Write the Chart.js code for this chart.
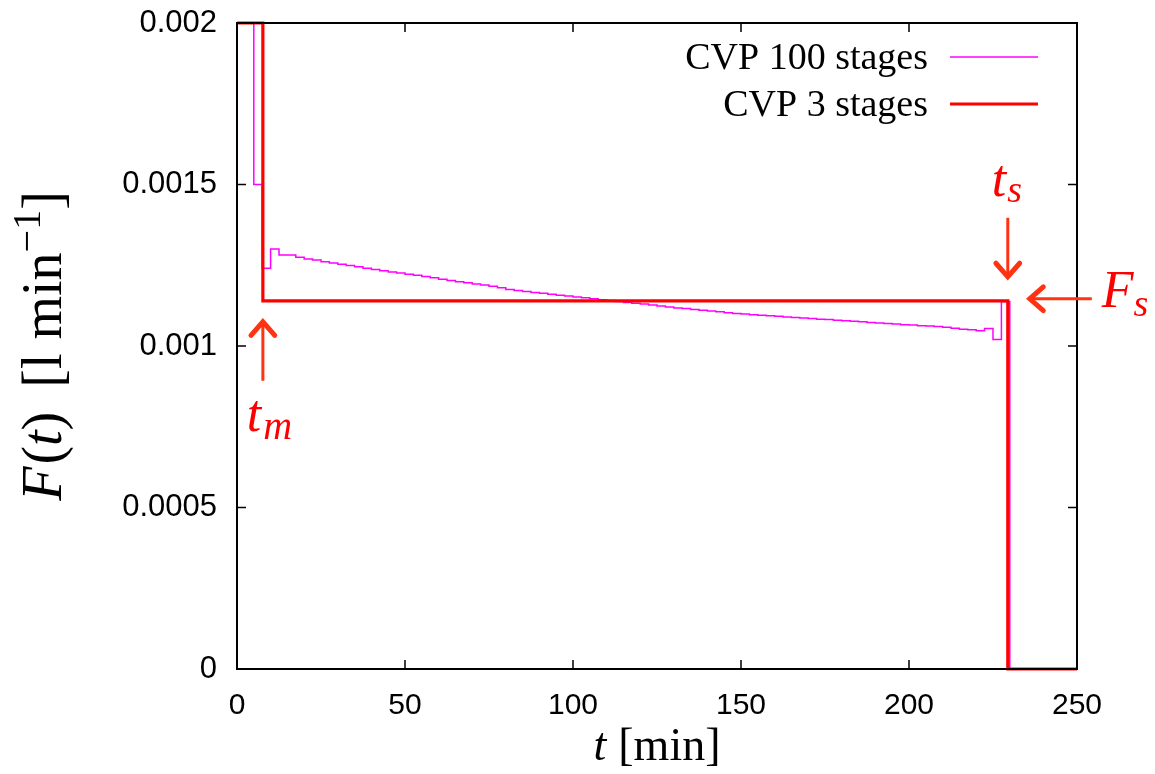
<!DOCTYPE html>
<html><head><meta charset="utf-8">
<script src="https://cdn.jsdelivr.net/npm/chart.js@4.4.0/dist/chart.umd.min.js"></script>
<style>html,body{margin:0;padding:0;background:#fff}#wrap{width:1155px;height:774px;position:relative}</style>
</head><body><div id="wrap"><canvas id="c"></canvas></div>
<script>
// ---- data ----
const seriesNames = ['CVP 100 stages', 'CVP 3 stages'];
const xTickValues = [0, 50, 100, 150, 200, 250];
const xTickLabels = ['0', '50', '100', '150', '200', '250'];
const yTickValues = [0, 0.0005, 0.001, 0.0015, 0.002];
const yTickLabels = ['0', '0.0005', '0.001', '0.0015', '0.002'];

const cvp100Times = [
  0, 2.5, 5, 7.5, 10, 12.5, 15, 17.5, 20, 22.5,
  25, 27.5, 30, 32.5, 35, 37.5, 40, 42.5, 45, 47.5,
  50, 52.5, 55, 57.5, 60, 62.5, 65, 67.5, 70, 72.5,
  75, 77.5, 80, 82.5, 85, 87.5, 90, 92.5, 95, 97.5,
  100, 102.5, 105, 107.5, 110, 112.5, 115, 117.5, 120, 122.5,
  125, 127.5, 130, 132.5, 135, 137.5, 140, 142.5, 145, 147.5,
  150, 152.5, 155, 157.5, 160, 162.5, 165, 167.5, 170, 172.5,
  175, 177.5, 180, 182.5, 185, 187.5, 190, 192.5, 195, 197.5,
  200, 202.5, 205, 207.5, 210, 212.5, 215, 217.5, 220, 222.5,
  225, 227.5, 230, 232.5, 235, 237.5, 240, 242.5, 245, 247.5,
  250
];
const cvp100Values = [
  0.002, 0.002, 0.0015, 0.001241, 0.0013, 0.001282, 0.001282, 0.001275, 0.001269, 0.001266,
  0.001261, 0.001257, 0.001253, 0.001249, 0.001245, 0.001241, 0.001237, 0.001233, 0.001229, 0.001226,
  0.001222, 0.001219, 0.001215, 0.001211, 0.001207, 0.001203, 0.001199, 0.001196, 0.001192, 0.001189,
  0.001185, 0.00118, 0.001175, 0.001172, 0.001169, 0.001166, 0.001163, 0.00116, 0.001157, 0.001155,
  0.001152, 0.001149, 0.001146, 0.001143, 0.001141, 0.001138, 0.001135, 0.001132, 0.00113, 0.001127,
  0.001124, 0.001121, 0.001118, 0.001116, 0.001113, 0.001111, 0.001108, 0.001106, 0.001103, 0.001101,
  0.001099, 0.001097, 0.001095, 0.001094, 0.001092, 0.00109, 0.001088, 0.001087, 0.001085, 0.001083,
  0.001082, 0.00108, 0.001078, 0.001077, 0.001075, 0.001073, 0.001071, 0.00107, 0.001068, 0.001066,
  0.001065, 0.001063, 0.001062, 0.00106, 0.001058, 0.001055, 0.001052, 0.00105, 0.001047, 0.001054,
  0.00102, 0.001138, 0, 0, 0, 0, 0, 0, 0, 0,
  0
];
const cvp3Times = [0, 7.7, 229.4, 250];
const cvp3Values = [0.002, 0.00114, 0, 0];

// annotation anchors taken from the 3-stage profile
const tM = cvp3Times[1];
const tS = cvp3Times[2];
const fS = cvp3Values[1];

// ---- helpers ----
const SERIF = '"Liberation Serif", "Times New Roman", serif';
const SANS = '"Liberation Sans", Arial, sans-serif';
const C100 = '#ff00ff', C3 = '#ff0000', ARROW = '#ff3311';

function toPoints(ts, vs) { return ts.map((t, i) => ({ x: t, y: vs[i] })); }

function drawRuns(ctx, runs, x, y, align) {
  let total = 0;
  runs.forEach(r => { ctx.font = r.font; r.w = ctx.measureText(r.t).width; total += r.w + (r.gap || 0); });
  let cx = align === 'center' ? x - total / 2 : (align === 'right' ? x - total : x);
  runs.forEach(r => {
    ctx.font = r.font;
    ctx.fillText(r.t, cx, y + (r.dy || 0));
    cx += r.w + (r.gap || 0);
  });
}

function arrow(ctx, x1, y1, x2, y2) {
  ctx.save();
  ctx.strokeStyle = ARROW; ctx.lineWidth = 3;
  ctx.beginPath(); ctx.moveTo(x1, y1); ctx.lineTo(x2, y2); ctx.stroke();
  const a = Math.atan2(y2 - y1, x2 - x1), L = 18, sp = 0.72;
  ctx.lineWidth = 5; ctx.lineCap = 'round'; ctx.lineJoin = 'miter';
  ctx.beginPath();
  ctx.moveTo(x2 - L * Math.cos(a - sp), y2 - L * Math.sin(a - sp));
  ctx.lineTo(x2, y2);
  ctx.lineTo(x2 - L * Math.cos(a + sp), y2 - L * Math.sin(a + sp));
  ctx.stroke();
  ctx.restore();
}

const framePlugin = {
  id: 'frame',
  afterDraw(chart) {
    const ctx = chart.ctx, a = chart.chartArea;
    const xs = chart.scales.x, ys = chart.scales.y;
    ctx.save();
    // border
    ctx.strokeStyle = '#000'; ctx.lineWidth = 2;
    ctx.strokeRect(a.left, a.top, a.right - a.left, a.bottom - a.top);
    // inward ticks, mirrored
    ctx.lineWidth = 1.5;
    ctx.beginPath();
    xTickValues.forEach(v => {
      const px = xs.getPixelForValue(v);
      ctx.moveTo(px, a.bottom); ctx.lineTo(px, a.bottom - 9);
      ctx.moveTo(px, a.top); ctx.lineTo(px, a.top + 9);
    });
    yTickValues.forEach(v => {
      const py = ys.getPixelForValue(v);
      ctx.moveTo(a.left, py); ctx.lineTo(a.left + 9, py);
      ctx.moveTo(a.right, py); ctx.lineTo(a.right - 9, py);
    });
    ctx.stroke();

    // legend
    ctx.fillStyle = '#000'; ctx.textBaseline = 'alphabetic'; ctx.textAlign = 'left';
    const legRight = a.right - 149, lx1 = a.right - 127, lx2 = a.right - 39;
    const rows = [{ y: a.top + 34, c: C100, w: 1.5 }, { y: a.top + 81, c: C3, w: 3 }];
    rows.forEach((r, i) => {
      drawRuns(ctx, [{ t: seriesNames[i], font: '38px ' + SERIF }], legRight, r.y + 12, 'right');
      ctx.strokeStyle = r.c; ctx.lineWidth = r.w;
      ctx.beginPath(); ctx.moveTo(lx1, r.y); ctx.lineTo(lx2, r.y); ctx.stroke();
    });

    // axis titles
    drawRuns(ctx, [
      { t: 't', font: 'italic 46px ' + SERIF, gap: 12 },
      { t: '[min]', font: '46px ' + SERIF }
    ], (a.left + a.right) / 2, 760, 'center');
    ctx.save();
    ctx.translate(61, (a.top + a.bottom) / 2);
    ctx.rotate(-Math.PI / 2);
    drawRuns(ctx, [
      { t: 'F', font: 'italic 56px ' + SERIF, gap: 2 },
      { t: '(', font: '56px ' + SERIF },
      { t: 't', font: 'italic 56px ' + SERIF },
      { t: ')', font: '56px ' + SERIF, gap: 24 },
      { t: '[l min', font: '56px ' + SERIF },
      { t: '\u22121', font: '40px ' + SERIF, dy: -21 },
      { t: ']', font: '56px ' + SERIF }
    ], 0, 0, 'center');
    ctx.restore();

    // annotations
    const xm = xs.getPixelForValue(tM), xsP = xs.getPixelForValue(tS), yf = ys.getPixelForValue(fS);
    arrow(ctx, xm, yf + 80, xm, yf + 21);
    arrow(ctx, xsP, yf - 83, xsP, yf - 24);
    arrow(ctx, xsP + 84, yf - 2, xsP + 22, yf - 2);
    ctx.fillStyle = '#ff0000';
    drawRuns(ctx, [
      { t: 't', font: 'italic 52px ' + SERIF, gap: 2 },
      { t: 'm', font: 'italic 40px ' + SERIF, dy: 8 }
    ], xm - 16, yf + 130, 'left');
    drawRuns(ctx, [
      { t: 't', font: 'italic 52px ' + SERIF, gap: 1 },
      { t: 's', font: 'italic 38px ' + SERIF, dy: 6 }
    ], xsP - 16, yf - 105, 'left');
    drawRuns(ctx, [
      { t: 'F', font: 'italic 52px ' + SERIF, gap: 0 },
      { t: 's', font: 'italic 38px ' + SERIF, dy: 9 }
    ], xsP + 94, yf + 6, 'left');
    ctx.restore();
  }
};

new Chart(document.getElementById('c'), {
  type: 'line',
  data: {
    datasets: [
      { label: seriesNames[0], data: toPoints(cvp100Times, cvp100Values), borderColor: C100, borderWidth: 1.5,
        stepped: true, pointRadius: 0, fill: false, clip: 2, order: 1 },
      { label: seriesNames[1], data: toPoints(cvp3Times, cvp3Values), borderColor: C3, borderWidth: 3.2,
        stepped: true, pointRadius: 0, fill: false, clip: 2, order: 0 }
    ]
  },
  options: {
    responsive: true, maintainAspectRatio: false, animation: false,
    layout: { padding: { top: 23, right: 78, left: 0, bottom: 0 } },
    plugins: { legend: { display: false }, tooltip: { enabled: false } },
    scales: {
      x: {
        type: 'linear', min: 0, max: 250,
        grid: { display: false, drawTicks: false }, border: { display: false },
        afterBuildTicks: s => { s.ticks = xTickValues.map(v => ({ value: v })); },
        afterFit: s => { s.height = 105; s.paddingLeft = 0; s.paddingRight = 0; },
        ticks: { callback: (v, i) => xTickLabels[i], color: '#000', padding: 19, maxRotation: 0,
                 font: { family: SANS, size: 30 } }
      },
      y: {
        type: 'linear', min: 0, max: 0.002,
        grid: { display: false, drawTicks: false }, border: { display: false },
        afterBuildTicks: s => { s.ticks = yTickValues.map(v => ({ value: v })); },
        afterFit: s => { s.width = 237; s.paddingTop = 0; s.paddingBottom = 0; },
        ticks: { callback: (v, i) => yTickLabels[i], color: '#000', padding: 20,
                 font: { family: SANS, size: 31 } }
      }
    }
  },
  plugins: [framePlugin]
});
</script></body></html>
